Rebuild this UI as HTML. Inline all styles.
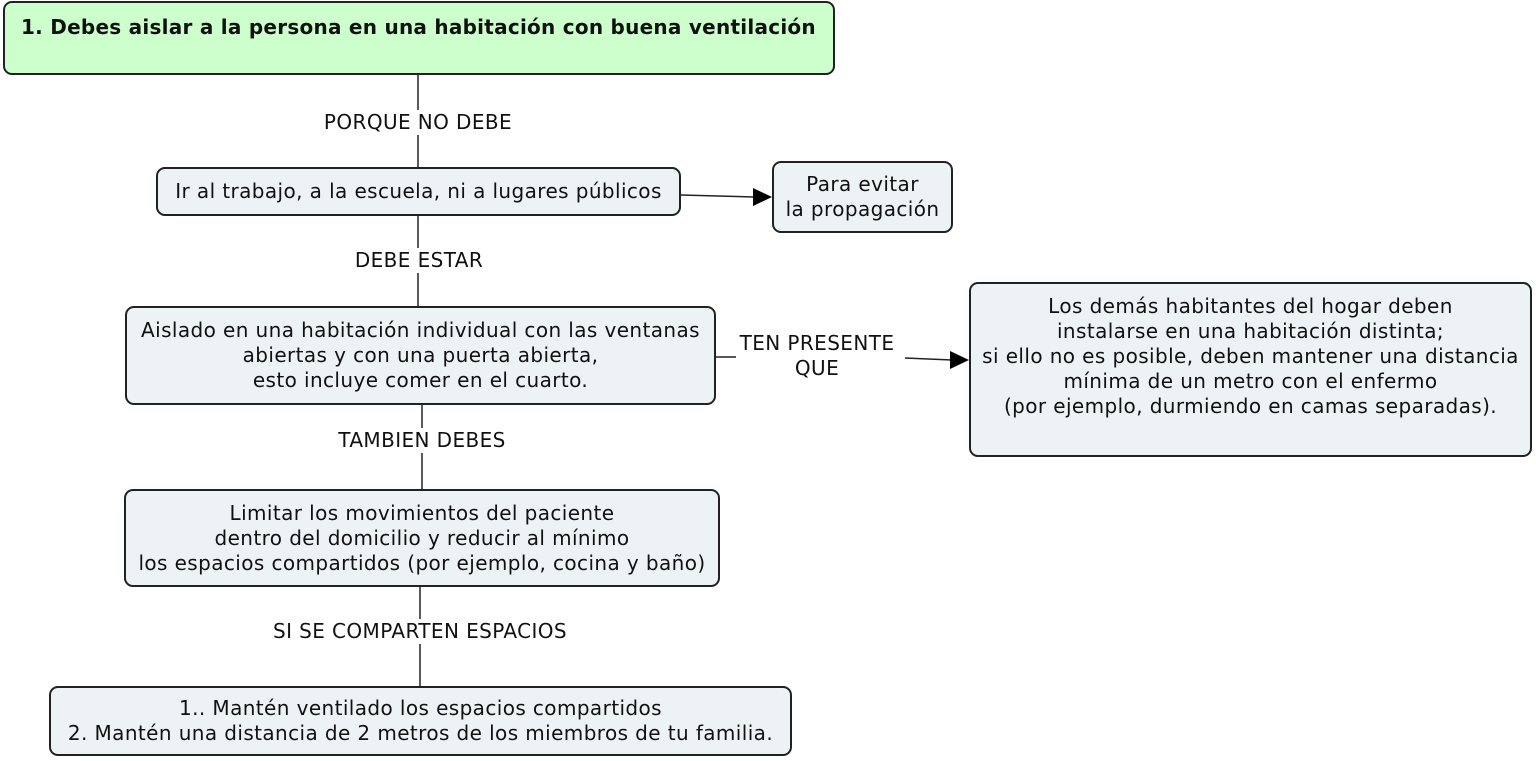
<!DOCTYPE html>
<html><head><meta charset="utf-8"><style>
body{margin:0;width:1536px;height:761px;background:#fff;position:relative;overflow:hidden;font-family:"DejaVu Sans",Verdana,"Liberation Sans",sans-serif;font-size:20px;letter-spacing:0.4px;color:#111}
.b{position:absolute;box-sizing:border-box;border:2px solid #222;border-radius:9px;background:#edf2f4;text-align:center;display:flex;align-items:center;justify-content:center;line-height:25px;white-space:nowrap}
.l{position:absolute;background:#fff;text-align:center;line-height:25px;white-space:nowrap}
svg{position:absolute;left:0;top:0}
</style></head><body>
<svg width="1536" height="761">
<g stroke="#222" stroke-width="1.5" fill="none">
<line x1="418" y1="75" x2="418" y2="167"/>
<line x1="418" y1="216" x2="418" y2="306"/>
<line x1="422" y1="405" x2="422" y2="489"/>
<line x1="420" y1="587" x2="420" y2="686"/>
<line x1="681" y1="195" x2="755" y2="197"/>
<line x1="716" y1="357" x2="736" y2="357"/>
<line x1="905" y1="358" x2="952" y2="360"/>
</g>
<polygon points="772,197 753,188 753,206" fill="#000"/>
<polygon points="969,360 950,351 950,369" fill="#000"/>
</svg>
<div class="b" style="left:3px;top:1px;width:832px;height:74px;background:#ccffcc;justify-content:flex-start;align-items:flex-start;padding:12px 0 0 16px;font-weight:bold;letter-spacing:0.25px">1. Debes aislar a la persona en una habitación con buena ventilación</div>
<div class="l" style="left:318px;top:110px;width:200px">PORQUE NO DEBE</div>
<div class="b" style="left:156px;top:167px;width:525px;height:49px">Ir al trabajo, a la escuela, ni a lugares públicos</div>
<div class="b" style="left:772px;top:161px;width:181px;height:72px">Para evitar<br>la propagación</div>
<div class="l" style="left:343px;top:248px;width:152px">DEBE ESTAR</div>
<div class="b" style="left:125px;top:306px;width:591px;height:99px">Aislado en una habitación individual con las ventanas<br>abiertas y con una puerta abierta,<br>esto incluye comer en el cuarto.</div>
<div class="l" style="left:731px;top:331px;width:172px;background:transparent">TEN PRESENTE<br>QUE</div>
<div class="b" style="left:969px;top:282px;width:563px;height:175px;align-items:flex-start;padding-top:10px">Los demás habitantes del hogar deben<br>instalarse en una habitación distinta;<br>si ello no es posible, deben mantener una distancia<br>mínima de un metro con el enfermo<br>(por ejemplo, durmiendo en camas separadas).</div>
<div class="l" style="left:326px;top:428px;width:192px">TAMBIEN DEBES</div>
<div class="b" style="left:124px;top:489px;width:596px;height:98px">Limitar los movimientos del paciente<br>dentro del domicilio y reducir al mínimo<br>los espacios compartidos (por ejemplo, cocina y baño)</div>
<div class="l" style="left:255px;top:619px;width:330px">SI SE COMPARTEN ESPACIOS</div>
<div class="b" style="left:49px;top:686px;width:743px;height:70px">1.. Mantén ventilado los espacios compartidos<br>2. Mantén una distancia de 2 metros de los miembros de tu familia.</div>
</body></html>
